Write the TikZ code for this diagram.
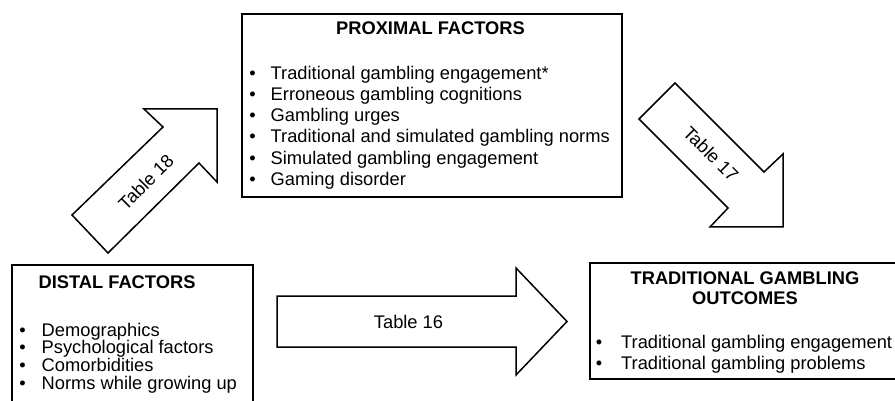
\documentclass[tikz,border=0pt]{standalone}
\usepackage{fontspec}
\setmainfont{Liberation Sans}
\begin{document}
\begin{tikzpicture}[x=1pt,y=-1pt,
  box/.style={draw=black,line width=1.8pt},
  blockarrow/.style={draw=black,line width=1.5pt,fill=white,line join=miter},
  title/.style={font=\fontsize{18.3}{21}\selectfont\bfseries,anchor=base,inner sep=0pt},
  item/.style={font=\fontsize{18.3}{21}\selectfont,anchor=base west,inner sep=0pt},
  bul/.style={font=\fontsize{18.3}{21}\selectfont,anchor=base,inner sep=0pt},
  lab/.style={font=\fontsize{18.3}{21}\selectfont,inner sep=0pt}]
\useasboundingbox (0,0) rectangle (895,401);
\clip (0,0) rectangle (895,401);
\fill[white] (0,0) rectangle (895,401);

% boxes
\draw[box] (12,265) rectangle (253,415);
\draw[box] (242,14) rectangle (622,197);
\draw[box] (590,263) rectangle (898,379);

% block arrows
\draw[blockarrow] (277,296) -- (516,296) -- (516,268) -- (567,321.5) -- (516,375) -- (516,347) -- (277,347) -- cycle;
\draw[blockarrow] (72,215) -- (163,127) -- (144,109) -- (217,109) -- (217,182) -- (199,163) -- (108,253) -- cycle;
\draw[blockarrow] (675,83) -- (764,172) -- (783,154) -- (783,227) -- (710,227) -- (728,208) -- (639,119) -- cycle;

% labels on arrows
\node[lab] (t16) at (408.5,322) {Table 16};
\node[lab,rotate=45] (t18) at (146,182) {Table 18};
\node[lab,rotate=-45] (t17) at (711,154) {Table 17};

% distal
\node[title] (dt) at (117,288) {DISTAL FACTORS};
\foreach \y/\t [count=\i] in {336/Demographics,353.7/Psychological factors,371.4/Comorbidities,389/Norms while growing up}{
  \node[bul] (db\i) at (22.5,\y) {•};
  \node[item] (di\i) at (41.5,\y) {\t};
}

% proximal
\node[title] (pt) at (430.5,35) {PROXIMAL FACTORS};
\foreach \y/\t [count=\i] in {79.3/Traditional gambling engagement*,100.5/Erroneous gambling cognitions,121.7/Gambling urges,142.9/Traditional and simulated gambling norms,164.1/Simulated gambling engagement,185.3/Gaming disorder}{
  \node[bul] (pb\i) at (252.5,\y) {•};
  \node[item] (pi\i) at (270.5,\y) {\t};
}

% outcomes
\node[title] (ot1) at (745,284) {TRADITIONAL GAMBLING};
\node[title] (ot2) at (745,304.5) {OUTCOMES};
\node[bul] (ob1) at (599,348) {•};
\node[item] (oi1) at (621,348) {Traditional gambling engagement};
\node[bul] (ob2) at (599,369) {•};
\node[item] (oi2) at (621,369) {Traditional gambling problems};
\end{tikzpicture}
\end{document}
